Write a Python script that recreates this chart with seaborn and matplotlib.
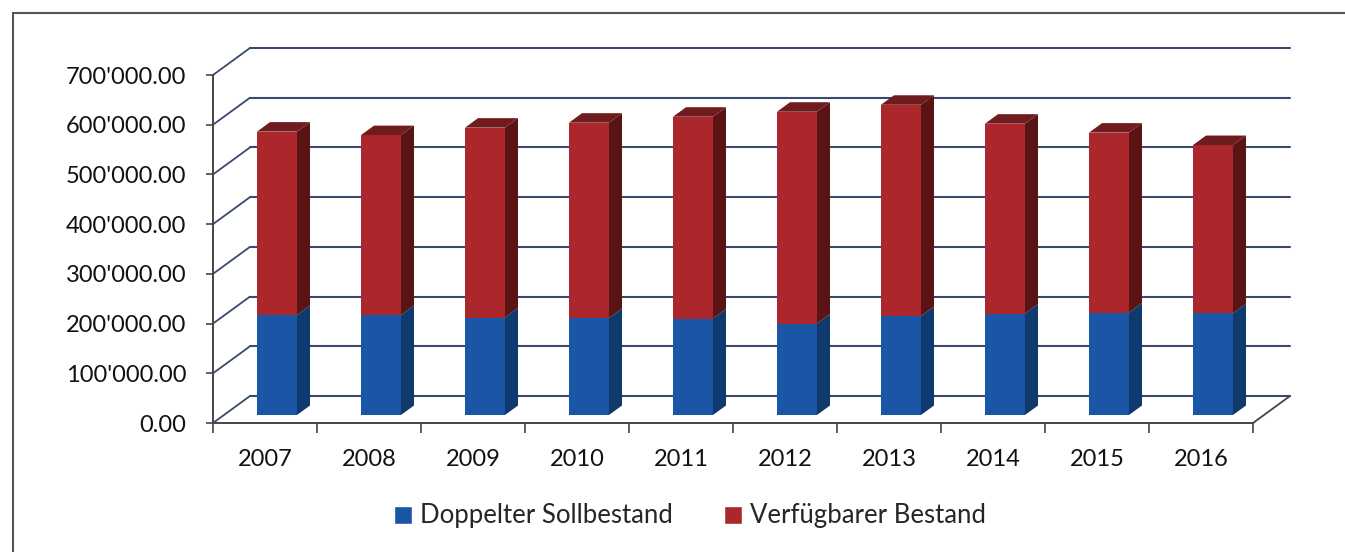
import matplotlib
matplotlib.use("Agg")
import matplotlib.pyplot as plt
from matplotlib.patches import Polygon, Patch, Rectangle
import seaborn as sns

# values (CHF)
years = ['2007', '2008', '2009', '2010', '2011', '2012', '2013', '2014', '2015', '2016']
soll = [201000, 201000, 196000, 195000, 194000, 184000, 199000, 204000, 206000, 205000]
verfuegbar = [369000, 362000, 382000, 393000, 406000, 426000, 425000, 382000, 362000, 338000]
totals = [s + v for s, v in zip(soll, verfuegbar)]
series_names = ['Doppelter Sollbestand', 'Verfügbarer Bestand']

blue, blue_side = '#1a56a6', '#0f3a6e'
red, red_side, red_top = '#ab272c', '#5a1416', '#701b1d'
grid_col = '#3a4a6e'
axis_col = '#454545'

sns.set_style('white')
plt.rcParams['font.family'] = ['Lato', 'DejaVu Sans']

W, H = 1345, 552
fig = plt.figure(figsize=(W / 100, H / 100), dpi=100)
# front plane of the 3d box
ax_l, ax_r, ax_top, ax_bot = 213, 1253, 75, 423
ax = fig.add_axes([ax_l / W, 1 - ax_bot / H, (ax_r - ax_l) / W, (ax_bot - ax_top) / H])
ymax = 700000
ax.set_xlim(-0.5, 9.5)
ax.set_ylim(0, ymax)

def px2x(p):
    return p * 10 / (ax_r - ax_l)

def px2y(p):
    return p * ymax / (ax_bot - ax_top)

# depth of the back wall and of the bars, in pixels
back_dx, back_dy = 37, 27
bar_ox, bar_oy = 12, 8
depth_dx, depth_dy = 13, 9.5

# back-wall gridlines plus the diagonals on the left wall
for v in range(0, ymax + 1, 100000):
    ax.plot([-0.5 + px2x(back_dx), 9.5 + px2x(back_dx)], [v + px2y(back_dy)] * 2,
            color=grid_col, lw=1.5, clip_on=False, zorder=1)
    ax.plot([-0.5, -0.5 + px2x(back_dx)], [v, v + px2y(back_dy)],
            color=grid_col, lw=1.3, clip_on=False, zorder=1)
ax.plot([9.5, 9.5 + px2x(back_dx)], [0, px2y(back_dy)], color=axis_col, lw=1.3,
        clip_on=False, zorder=1)

# front faces: red full stack, blue lower part drawn over it
bw = 40 / 104
sns.barplot(x=years, y=totals, color=red, width=bw, saturation=1, errorbar=None,
            ax=ax, zorder=3, linewidth=0)
sns.barplot(x=years, y=soll, color=blue, width=bw, saturation=1, errorbar=None,
            ax=ax, zorder=4, linewidth=0)
for p in ax.patches:
    p.set_x(p.get_x() + px2x(bar_ox))
    p.set_y(p.get_y() + px2y(bar_oy))
    p.set_clip_on(False)

ddx, ddy = px2x(depth_dx), px2y(depth_dy)
base = px2y(bar_oy)
for i in range(len(years)):
    x0 = i - bw / 2 + px2x(bar_ox)
    x1 = x0 + bw
    yb, yt = base + soll[i], base + totals[i]
    faces = [
        ([(x1, base), (x1, yb), (x1 + ddx, yb + ddy), (x1 + ddx, base + ddy)], blue_side),
        ([(x1, yb), (x1, yt), (x1 + ddx, yt + ddy), (x1 + ddx, yb + ddy)], red_side),
        ([(x0, yt), (x1, yt), (x1 + ddx, yt + ddy), (x0 + ddx, yt + ddy)], red_top),
    ]
    for pts, c in faces:
        ax.add_patch(Polygon(pts, closed=True, facecolor=c, edgecolor='none',
                             clip_on=False, zorder=3))

# axes / ticks
sns.despine(ax=ax, top=True, right=True)
for s in ['left', 'bottom']:
    ax.spines[s].set_color(axis_col)
    ax.spines[s].set_linewidth(1.4)
ax.set_xlabel('')
ax.set_ylabel('')
ax.set_yticks(range(0, ymax + 1, 100000))
ax.set_yticklabels([f"{v:,.2f}".replace(',', "'") for v in range(0, ymax + 1, 100000)])
ax.set_xticks(range(len(years)))
ax.set_xticklabels(years)
ax.set_xticks([i - 0.5 for i in range(len(years) + 1)], minor=True)
ax.tick_params(axis='y', left=True, length=5, width=1.2, color=axis_col, pad=14,
               labelsize=17, labelcolor='#111111')
ax.tick_params(axis='x', which='major', bottom=False, length=0, pad=19,
               labelsize=17, labelcolor='#111111')
ax.tick_params(axis='x', which='minor', bottom=True, length=7, width=1.2,
               color=axis_col, direction='out')

handles = [Patch(facecolor=blue, label=series_names[0]),
           Patch(facecolor=red, label=series_names[1])]
fig.legend(handles=handles, loc='center', bbox_to_anchor=(690 / W, 1 - 516 / H), ncol=2,
           frameon=False, fontsize=18.5, handlelength=0.7, handleheight=0.7,
           handletextpad=0.3, columnspacing=2.0)

# outer frame of the chart area
fig.patches.append(Rectangle((13 / W, -0.05), 1.1, 1 - 13 / H + 0.05, transform=fig.transFigure,
                             fill=False, edgecolor='#555555', lw=1.5))

fig.savefig('out.png', dpi=100)
